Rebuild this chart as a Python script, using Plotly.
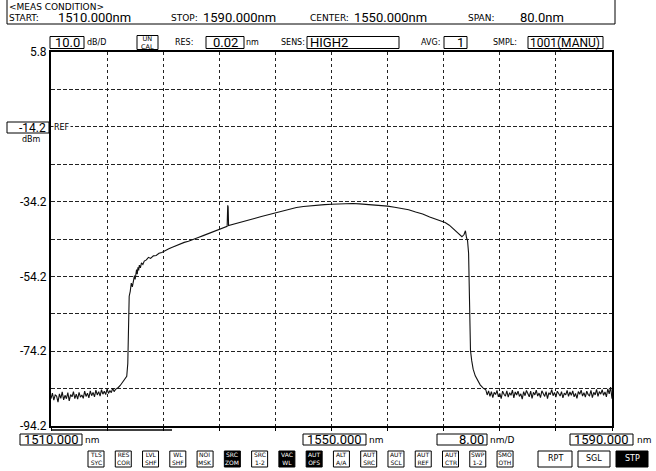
import plotly.graph_objects as go

wl_left_noise = [1510.0, 1510.2, 1510.4, 1510.6, 1510.8, 1511.0, 1511.2, 1511.4, 1511.6, 1511.8,
                 1512.0, 1512.2, 1512.4, 1512.6, 1512.8, 1513.0, 1513.2, 1513.4, 1513.6, 1513.8,
                 1514.0, 1514.2, 1514.4, 1514.6, 1514.8, 1515.0, 1515.2, 1515.4, 1515.6, 1515.8,
                 1516.0, 1516.2, 1516.4, 1516.6, 1516.8, 1517.0, 1517.2, 1517.4, 1517.6, 1517.8,
                 1518.0, 1518.2, 1518.4, 1518.6, 1518.8, 1519.0, 1519.2, 1519.4]
lvl_left_noise = [-86.9, -85.4, -87.3, -85.9, -86.2, -87.8, -85.6, -86.8, -85.1, -87.2,
                  -86.0, -86.9, -85.3, -87.5, -85.8, -86.4, -85.0, -86.9, -85.7, -87.0,
                  -85.2, -86.5, -85.9, -86.8, -84.9, -86.3, -85.4, -86.7, -84.8, -86.1,
                  -85.2, -86.4, -84.6, -85.9, -85.0, -86.2, -84.5, -85.7, -84.9, -85.8,
                  -84.3, -85.5, -84.7, -85.3, -84.1, -85.0, -84.4, -84.2]

wl_band = [1519.6, 1519.9, 1520.2, 1520.5, 1520.8, 1520.95, 1521.02, 1521.08, 1521.15, 1521.3,
           1521.45, 1521.6, 1521.75, 1521.9, 1522.0, 1522.1, 1522.2, 1522.3, 1522.4, 1522.5,
           1522.6, 1522.75, 1522.9, 1523.1, 1523.3, 1523.6, 1523.9, 1524.2, 1524.6, 1525.0,
           1525.4, 1525.8, 1526.3, 1526.8, 1527.3, 1527.8, 1528.4, 1529.0, 1529.6, 1530.3,
           1531.0, 1531.7, 1532.4, 1533.1, 1533.8, 1534.5, 1535.0, 1535.12, 1535.2, 1535.26,
           1535.32, 1535.5, 1536.2, 1537.0, 1538.0, 1539.0, 1540.0, 1541.0, 1542.0, 1543.0,
           1544.0, 1545.0, 1546.0, 1547.0, 1548.0, 1549.0, 1550.0, 1551.0, 1552.0, 1553.0,
           1554.0, 1555.0, 1556.0, 1557.0, 1558.0, 1559.0, 1560.0, 1561.0, 1562.0, 1563.0,
           1564.0, 1565.0, 1565.6, 1566.2, 1566.8, 1567.3, 1567.8, 1568.2, 1568.6, 1568.9,
           1569.1, 1569.25, 1569.4, 1569.55, 1569.62, 1569.68, 1569.74, 1569.82, 1570.0, 1570.2,
           1570.5, 1570.8, 1571.2, 1571.6]
lvl_band = [-83.9, -83.3, -82.6, -81.9, -80.9, -77.5, -70.0, -63.0, -59.5, -58.2,
            -56.0, -57.0, -55.2, -54.0, -55.0, -53.2, -52.4, -53.6, -51.8, -52.6,
            -51.2, -51.9, -50.6, -51.0, -50.1, -49.8, -49.1, -49.4, -48.7, -48.6,
            -48.0, -47.8, -47.2, -46.8, -46.4, -46.0, -45.6, -45.1, -44.8, -44.2,
            -43.8, -43.3, -42.8, -42.3, -41.9, -41.4, -41.0, -40.8, -35.2, -35.6,
            -40.6, -40.5, -40.1, -39.7, -39.2, -38.7, -38.2, -37.7, -37.1, -36.7,
            -36.2, -35.8, -35.5, -35.3, -35.1, -35.0, -34.9, -34.8, -34.8, -34.7,
            -34.8, -34.9, -35.0, -35.1, -35.4, -35.7, -36.0, -36.4, -37.0, -37.5,
            -38.3, -38.9, -39.3, -39.8, -40.5, -41.3, -42.1, -42.9, -43.6, -43.0,
            -42.0, -43.8, -44.6, -48.0, -55.0, -63.0, -70.0, -74.0, -76.8, -79.0,
            -80.8, -82.0, -83.2, -84.0]

wl_right_noise = [1572.0, 1572.2, 1572.4, 1572.6, 1572.8, 1573.0, 1573.2, 1573.4, 1573.6, 1573.8,
                  1574.0, 1574.2, 1574.4, 1574.6, 1574.8, 1575.0, 1575.2, 1575.4, 1575.6, 1575.8,
                  1576.0, 1576.2, 1576.4, 1576.6, 1576.8, 1577.0, 1577.2, 1577.4, 1577.6, 1577.8,
                  1578.0, 1578.2, 1578.4, 1578.6, 1578.8, 1579.0, 1579.2, 1579.4, 1579.6, 1579.8,
                  1580.0, 1580.2, 1580.4, 1580.6, 1580.8, 1581.0, 1581.2, 1581.4, 1581.6, 1581.8,
                  1582.0, 1582.2, 1582.4, 1582.6, 1582.8, 1583.0, 1583.2, 1583.4, 1583.6, 1583.8,
                  1584.0, 1584.2, 1584.4, 1584.6, 1584.8, 1585.0, 1585.2, 1585.4, 1585.6, 1585.8,
                  1586.0, 1586.2, 1586.4, 1586.6, 1586.8, 1587.0, 1587.2, 1587.4, 1587.6, 1587.8,
                  1588.0, 1588.2, 1588.4, 1588.6, 1588.8, 1589.0, 1589.2, 1589.4, 1589.6, 1589.8,
                  1590.0]
lvl_right_noise = [-84.5, -85.9, -84.8, -86.3, -85.0, -86.6, -85.2, -85.8, -84.7, -86.4,
                   -85.5, -86.9, -84.9, -85.7, -86.2, -84.8, -86.5, -85.3, -86.0, -84.6,
                   -86.7, -85.1, -85.9, -84.9, -86.3, -85.6, -87.0, -85.0, -86.1, -84.7,
                   -85.8, -86.4, -84.9, -86.8, -85.2, -85.9, -84.6, -86.2, -85.4, -86.6,
                   -84.8, -85.7, -86.3, -85.0, -86.9, -85.3, -85.8, -84.5, -86.1, -85.2,
                   -86.5, -84.9, -85.6, -86.2, -85.0, -86.7, -85.4, -85.9, -84.7, -86.3,
                   -85.1, -86.0, -84.8, -86.4, -85.5, -86.8, -85.0, -85.7, -84.6, -86.2,
                   -85.3, -86.5, -84.9, -85.8, -86.1, -84.7, -86.6, -85.2, -85.9, -84.4,
                   -86.3, -85.0, -85.7, -84.5, -86.0, -85.1, -86.4, -84.3, -85.6, -83.8,
                   -86.9]

x_tickvals = [1510, 1518, 1526, 1534, 1542, 1550, 1558, 1566, 1574, 1582, 1590]
y_tickvals = [5.8, -4.2, -14.2, -24.2, -34.2, -44.2, -54.2, -64.2, -74.2, -84.2, -94.2]
y_ticktext = ["5.8", "", "", "", "-34.2", "", "-54.2", "", "-74.2", "", "-94.2"]

button_labels = ["TLS<br>SYC", "RES<br>COR", "LVL<br>SHF", "WL<br>SHF", "NOI<br>MSK", "SRC<br>ZOM",
                 "SRC<br>1-2", "VAC<br>WL", "AUT<br>OFS", "ALT<br>A/A", "AUT<br>SRC", "AUT<br>SCL",
                 "AUT<br>REF", "AUT<br>CTR", "SWP<br>1-2", "SMO<br>OTH"]
button_inverted = [False, False, False, False, False, True, False, True, True, False,
                   False, False, False, False, False, False]
key_labels = ["RPT", "SGL", "STP"]
key_inverted = [False, False, True]

wavelength = wl_left_noise + wl_band + wl_right_noise
level = lvl_left_noise + lvl_band + lvl_right_noise

# ---------------- figure ----------------
W, H = 656, 471
ML, MR, MT, MB = 51, 44, 52, 45
PW, PH = W - ML - MR, H - MT - MB

def px(x):
    return (x - ML) / PW

def py(y):
    return (H - MB - y) / PH

BIG = "Roboto, Liberation Sans Narrow, sans-serif"
SMALL = "DejaVu Sans, Verdana, sans-serif"

fig = go.Figure()
fig.add_trace(go.Scatter(x=wavelength, y=level, mode="lines",
                         line=dict(color="#111111", width=1.1), hoverinfo="skip"))

shapes = []
annots = []

def text(x, y, s, size=10, family=SMALL, anchor="left", color="black", bg=None):
    d = dict(x=px(x), y=py(y), xref="paper", yref="paper", text=s, showarrow=False,
             xanchor=anchor, yanchor="middle", font=dict(size=size, family=family, color=color),
             borderpad=0)
    if bg:
        d["bgcolor"] = bg
    annots.append(d)

def rect(x0, y0, x1, y1, fill="white", lw=1):
    shapes.append(dict(type="rect", xref="paper", yref="paper", x0=px(x0), x1=px(x1),
                       y0=py(y1), y1=py(y0), line=dict(color="black", width=lw), fillcolor=fill,
                       layer="above"))

def line(x0, y0, x1, y1, lw=1):
    shapes.append(dict(type="line", xref="paper", yref="paper", x0=px(x0), x1=px(x1),
                       y0=py(y0), y1=py(y1), line=dict(color="black", width=lw)))

# header box
line(7, 0, 7, 24)
line(7, 24, 615, 24)
line(615, 0, 615, 24)
text(8, 7, "&lt;MEAS CONDITION&gt;", 9)
text(8, 18.5, "START:", 9)
text(57, 17.5, "1510.000nm", 13, BIG)
text(170, 18.5, "STOP:", 9)
text(202, 17.5, "1590.000nm", 13, BIG)
text(309, 18.5, "CENTER:", 9)
text(353, 17.5, "1550.000nm", 13, BIG)
text(467, 18.5, "SPAN:", 9)
text(519, 17.5, "80.0nm", 13, BIG)

# second row
rect(50, 36.5, 84, 48.5)
text(67, 42.5, "10.0", 13, BIG, "center")
text(86, 43, "dB/D", 8)
rect(137, 35.5, 158, 49.5)
text(147.5, 42.5, "UN<br>CAL", 6.5, SMALL, "center")
text(174, 43, "RES:", 8)
rect(206, 36.5, 244, 48.5)
text(225, 42.5, "0.02", 13, BIG, "center")
text(245, 43, "nm", 8)
text(280, 43, "SENS:", 8)
rect(307, 36.5, 399, 48.5)
text(309, 42.5, "HIGH2", 13, BIG)
text(420, 43, "AVG:", 8)
rect(444, 36.5, 467, 48.5)
text(465, 42.5, "1", 13, BIG, "right")
text(492, 43, "SMPL:", 8)
rect(528, 36.5, 603, 48.5)
text(601, 42.5, "1001(MANU)", 12, BIG, "right")

# reference level marker
rect(7, 122, 49, 133)
text(47, 127.5, "-14.2", 12, BIG, "right")
text(53, 127.5, "REF", 8, SMALL, "left", bg="white")
text(31, 139, "dBm", 8, SMALL, "center")

# under-plot bar line
line(51, 430, 172, 430, 1.5)

# bottom labels
rect(20, 434, 82, 445)
text(80, 439.5, "1510.000", 13, BIG, "right")
text(84, 440, "nm", 9)
rect(303, 434, 366, 445)
text(334.5, 439.5, "1550.000", 13, BIG, "center")
text(368, 440, "nm", 9)
rect(437, 434, 487, 445)
text(485, 439.5, "8.00", 13, BIG, "right")
text(489, 440, "nm/D", 9)
rect(570, 434, 633, 445)
text(601.5, 439.5, "1590.000", 13, BIG, "center")
text(636, 440, "nm", 9)

# soft keys
bx0, bstep, bw = 88, 27.27, 16
for i, lab in enumerate(button_labels):
    x0 = bx0 + i * bstep
    inv = button_inverted[i]
    rect(x0, 451, x0 + bw, 467, fill="black" if inv else "white")
    text(x0 + bw / 2, 459, lab, 6, SMALL, "center", color="white" if inv else "black")
key_x = [538, 578, 616]
key_w = [34, 32, 32]
for i, lab in enumerate(key_labels):
    inv = key_inverted[i]
    rect(key_x[i], 451, key_x[i] + key_w[i], 467, fill="black" if inv else "white")
    text(key_x[i] + key_w[i] / 2, 459, lab, 8, SMALL, "center", color="white" if inv else "black")

fig.update_layout(
    width=W, height=H, autosize=False,
    margin=dict(l=ML, r=MR, t=MT, b=MB, pad=0),
    paper_bgcolor="white", plot_bgcolor="white",
    showlegend=False,
    shapes=shapes, annotations=annots,
    xaxis=dict(range=[1510, 1590], tickvals=x_tickvals, showticklabels=False,
               showgrid=True, gridcolor="#222222", gridwidth=1, griddash="3px,3px",
               showline=True, linecolor="black", linewidth=2, mirror=True, zeroline=False,
               ticks="outside", ticklen=3, tickcolor="black", tickwidth=1),
    yaxis=dict(range=[-94.2, 5.8], tickvals=y_tickvals, ticktext=y_ticktext,
               showgrid=True, gridcolor="#222222", gridwidth=1, griddash="4px,2px",
               showline=True, linecolor="black", linewidth=2, mirror=True, zeroline=False,
               ticks="", tickfont=dict(family=BIG, size=12, color="black")),
)

fig.write_html("out.html", config={"displayModeBar": False},
               post_script="document.body.style.margin='0';document.body.style.overflow='hidden';")
